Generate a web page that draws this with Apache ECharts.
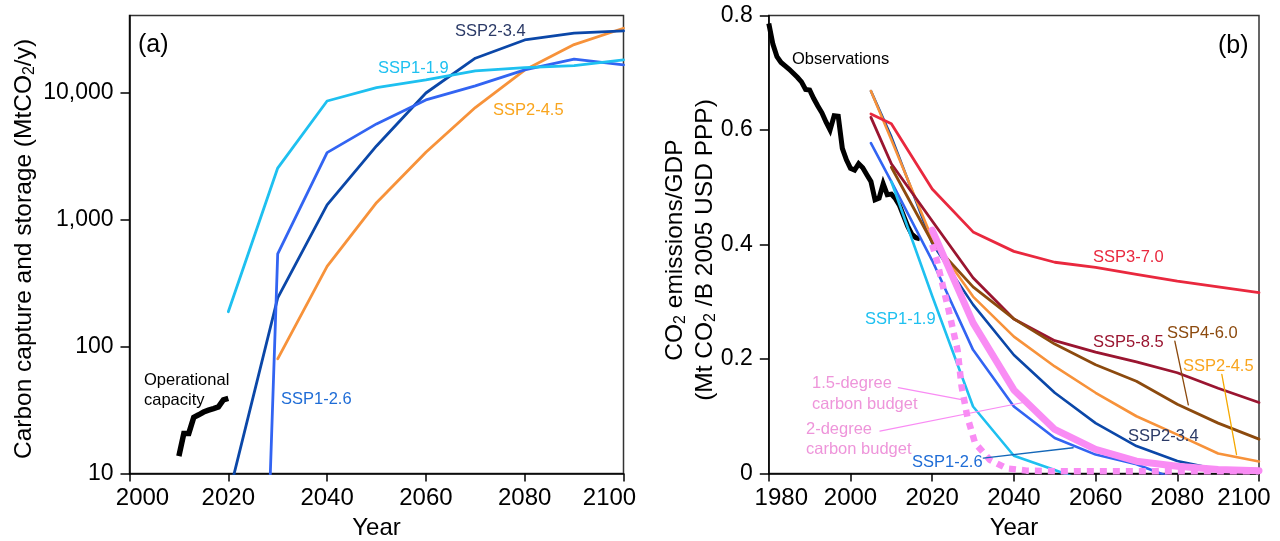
<!DOCTYPE html>
<html><head><meta charset="utf-8">
<script src="https://cdn.jsdelivr.net/npm/echarts@6/dist/echarts.min.js"></script>
<style>html,body{margin:0;padding:0;background:#fff}#c{width:1280px;height:541px}</style>
</head><body><div id="c"></div>
<script>
const FONT = '"Liberation Sans", Arial, sans-serif';

// ---------- Panel (a): carbon capture and storage (MtCO2/y), log scale ----------
const ccsTicks = [10, 100, 1000, 10000];
const opYears  = [2010, 2011, 2012, 2013, 2014, 2015, 2016, 2017, 2018, 2019, 2020];
const opValues = [13.7, 20.7, 20.7, 27.7, 29.0, 30.5, 31.6, 32.5, 33.5, 38.0, 39.0];
const a119Years  = [2020, 2030, 2040, 2050, 2060, 2070, 2080, 2090, 2100];
const a119Values = [188, 2550, 8610, 10960, 12620, 14860, 15780, 16360, 18130];
const a126Years  = [2028, 2030, 2040, 2050, 2060, 2070, 2080, 2090, 2100];
const a126Values = [2.6, 537, 3375, 5680, 8770, 11320, 15140, 18370, 16560];
const a234Years  = [2020, 2030, 2040, 2050, 2060, 2070, 2080, 2090, 2100];
const a234Values = [6.5, 242, 1306, 3810, 9950, 18710, 26060, 29440, 30700];
const a245Years  = [2030, 2040, 2050, 2060, 2070, 2080, 2090, 2100];
const a245Values = [80, 428, 1360, 3400, 7640, 15100, 23950, 32200];

// ---------- Panel (b): CO2 emissions / GDP ----------
const obsYears  = [1980,1981,1982,1983,1984,1985,1986,1987,1988,1989,1990,1991,1992,1993,1994,1995,1996,1997,1998,1999,2000,2001,2002,2003,2004,2005,2006,2007,2008,2009,2010,2011,2012,2013,2014,2015,2016,2017];
const obsValues = [0.786,0.750,0.728,0.718,0.712,0.706,0.699,0.692,0.684,0.671,0.670,0.655,0.642,0.630,0.614,0.600,0.625,0.624,0.568,0.548,0.533,0.530,0.541,0.534,0.522,0.510,0.478,0.481,0.506,0.487,0.488,0.480,0.468,0.450,0.432,0.418,0.412,0.410];
const scenYears = [2005, 2010, 2020, 2030, 2040, 2050, 2060, 2070, 2080, 2090, 2100];
const b370Values = [0.628, 0.611, 0.497, 0.422, 0.388, 0.369, 0.360, 0.348, 0.336, 0.326, 0.316];
const b585Values = [0.622, 0.541, 0.441, 0.342, 0.270, 0.232, 0.212, 0.195, 0.176, 0.149, 0.124];
const b460Years  = [2010, 2020, 2030, 2040, 2050, 2060, 2070, 2080, 2090, 2100];
const b460Values = [0.535, 0.404, 0.326, 0.270, 0.226, 0.190, 0.161, 0.121, 0.088, 0.060];
const b245Values = [0.668, 0.583, 0.410, 0.309, 0.239, 0.187, 0.141, 0.100, 0.068, 0.035, 0.021];
const b234Values = [0.668, 0.588, 0.402, 0.295, 0.207, 0.141, 0.088, 0.048, 0.022, 0.007, 0.003];
const b126Years  = [2005, 2010, 2020, 2030, 2040, 2050, 2060, 2070, 2080];
const b126Values = [0.577, 0.510, 0.372, 0.216, 0.117, 0.062, 0.033, 0.016, -0.011];
const b119Years  = [2010, 2020, 2030, 2040, 2050, 2060];
const b119Values = [0.510, 0.310, 0.117, 0.031, 0.006, -0.020];
const deg2Years  = [2020, 2030, 2040, 2050, 2060, 2070, 2080, 2090, 2100];
const deg2Values = [0.425, 0.263, 0.146, 0.077, 0.042, 0.0215, 0.0128, 0.007, 0.005];
const deg15Years  = [2020, 2021, 2024, 2026.2, 2027.2, 2028.6, 2030.5, 2034.1, 2038.2, 2043.1, 2050, 2100];
const deg15Values = [0.400, 0.376, 0.286, 0.216, 0.152, 0.099, 0.053, 0.024, 0.009, 0.005, 0.004, 0.004];
// label leader lines (from label to curve), in data units
const lead15  = {years: [2011.7, 2027.2], values: [0.150, 0.129]};
const lead2   = {years: [2007.2, 2042.3], values: [0.074, 0.124]};
const lead126 = {years: [2032.5, 2054.5], values: [0.027, 0.045]};
const lead460 = {years: [2079.4, 2082.7], values: [0.231, 0.120]};
const lead245 = {years: [2090.9, 2094.5], values: [0.173, 0.033]};

const pairs = (xs, ys) => xs.map((x, i) => [x, ys[i]]);

function line(name, xi, xs, ys, color, width, extra) {
  return Object.assign({
    name, type: 'line', xAxisIndex: xi, yAxisIndex: xi,
    data: pairs(xs, ys), showSymbol: false, symbol: 'none', silent: true,
    clip: true, animation: false,
    lineStyle: {color, width, cap: 'round', join: 'round'}
  }, extra || {});
}

const C = {
  cyan: '#1EC0F0', blue: '#3264F2', navy: '#0B47A8', orange: '#F7923A',
  red: '#E9283E', dred: '#9A1530', brown: '#8C4A0E', pink: '#F98CF4',
  labOrange: '#F9A51E', labNavy: '#2B3A67', labBlue: '#1E6CD6', labPink: '#EE95DA'
};

function axisX(gi, min, max, pad) {
  return {
    gridIndex: gi, type: 'value', min, max, interval: 20,
    axisLine: {show: true, onZero: false, lineStyle: {color: '#000', width: 1.5}},
    axisTick: {show: true, length: 8, lineStyle: {color: '#000', width: 1.5}},
    splitLine: {show: false},
    axisLabel: {
      fontSize: 24, color: '#000', fontFamily: FONT, margin: 13,
      formatter: v => v === min ? '{l|' + v + '}' : (v === max ? '{r|' + v + '}' : String(v)),
      rich: {
        l: {fontSize: 24, color: '#000', fontFamily: FONT, padding: [0, 0, 0, pad[0]]},
        r: {fontSize: 24, color: '#000', fontFamily: FONT, padding: [0, pad[1], 0, 0]}
      }
    },
    name: 'Year', nameLocation: 'middle', nameGap: 43,
    nameTextStyle: {fontSize: 24, color: '#000', fontFamily: FONT}
  };
}

function txt(text, x, y, color, size, align) {
  return {
    type: 'text', x, y, silent: true, z: 50,
    style: {text, fill: color, font: (size || 16.5) + 'px ' + FONT,
      align: align || 'left', verticalAlign: 'middle',
      textAlign: align || 'left', textVerticalAlign: 'middle'}
  };
}
function vtxt(rt, x, y, size) {
  return {
    type: 'text', x, y, rotation: Math.PI / 2, silent: true, z: 50,
    style: {
      text: rt, fill: '#000', font: size + 'px ' + FONT,
      align: 'center', verticalAlign: 'middle', textAlign: 'center', textVerticalAlign: 'middle',
      rich: {
        a: {fontSize: size, fontFamily: FONT, fill: '#000', color: '#000', lineHeight: 30},
        s: {fontSize: 16, fontFamily: FONT, fill: '#000', color: '#000', padding: [11, 0, 0, 0], lineHeight: 30}
      }
    }
  };
}

const option = {
  animation: false,
  backgroundColor: '#fff',
  grid: [
    {left: 129.5, right: 656.5, top: 15.5, bottom: 67.5, show: true, borderColor: '#333', borderWidth: 1.5,
      backgroundColor: 'transparent', containLabel: false, outerBoundsMode: 'none'},
    {left: 768.8, right: 21, top: 15.5, bottom: 67.5, show: true, borderColor: '#333', borderWidth: 1.5,
      backgroundColor: 'transparent', containLabel: false, outerBoundsMode: 'none'}
  ],
  xAxis: [axisX(0, 2000, 2100, [26, 28]), axisX(1, 1980, 2100, [25, 30])],
  yAxis: [
    {gridIndex: 0, type: 'log', logBase: 10, min: 10, max: 40600,
      axisLine: {show: true, onZero: false, lineStyle: {color: '#000', width: 1.5}},
      axisTick: {show: true, length: 9, customValues: ccsTicks, lineStyle: {color: '#000', width: 1.5}},
      splitLine: {show: false}, minorTick: {show: false},
      axisLabel: {fontSize: 23, color: '#000', fontFamily: FONT, margin: 16, customValues: ccsTicks,
        formatter: v => Math.round(v).toLocaleString('en-US')}},
    {gridIndex: 1, type: 'value', min: 0, max: 0.8, interval: 0.2,
      axisLine: {show: true, onZero: false, lineStyle: {color: '#000', width: 1.5}},
      axisTick: {show: true, length: 9, lineStyle: {color: '#000', width: 1.5}},
      splitLine: {show: false},
      axisLabel: {fontSize: 23, color: '#000', fontFamily: FONT, margin: 16,
        formatter: v => (Math.round(v * 10) / 10).toString()}}
  ],
  series: [
    // panel (a)
    line('Operational capacity', 0, opYears, opValues, '#000', 5.5, {lineStyle: {color: '#000', width: 5.5, cap: 'butt', join: 'miter'}}),
    line('SSP2-4.5 a', 0, a245Years, a245Values, C.orange, 2.8),
    line('SSP2-3.4 a', 0, a234Years, a234Values, C.navy, 2.8),
    line('SSP1-2.6 a', 0, a126Years, a126Values, C.blue, 2.8),
    line('SSP1-1.9 a', 0, a119Years, a119Values, C.cyan, 2.8),
    // panel (b)
    line('Observations', 1, obsYears, obsValues, '#000', 5, {lineStyle: {color: '#000', width: 5, cap: 'butt', join: 'miter'}}),
    line('SSP2-3.4 b', 1, scenYears, b234Values, C.navy, 2.6),
    line('SSP2-4.5 b', 1, scenYears, b245Values, C.orange, 2.6),
    line('SSP3-7.0 b', 1, scenYears, b370Values, C.red, 2.8),
    line('SSP5-8.5 b', 1, scenYears, b585Values, C.dred, 2.8),
    line('SSP4-6.0 b', 1, b460Years, b460Values, C.brown, 2.8),
    line('SSP1-2.6 b', 1, b126Years, b126Values, C.blue, 2.6),
    line('SSP1-1.9 b', 1, b119Years, b119Values, C.cyan, 2.6),
    line('2-degree', 1, deg2Years, deg2Values, C.pink, 7),
    line('1.5-degree', 1, deg15Years, deg15Values, C.pink, 6.5, {lineStyle: {color: C.pink, width: 6.5, type: [7, 6], cap: 'butt'}}),
    line('lead15', 1, lead15.years, lead15.values, C.pink, 1.2),
    line('lead2', 1, lead2.years, lead2.values, C.pink, 1.2),
    line('lead126', 1, lead126.years, lead126.values, '#1467B8', 1.3),
    line('lead460', 1, lead460.years, lead460.values, C.brown, 1.3),
    line('lead245', 1, lead245.years, lead245.values, '#F5A800', 1.3)
  ],
  graphic: [
    vtxt('{a|Carbon capture and storage (MtCO}{s|2}{a|/y)}', 24, 249, 24.5),
    vtxt('{a|CO}{s|2}{a| emissions/GDP}', 675, 250, 24.5),
    vtxt('{a|(Mt CO}{s|2}{a| /B 2005 USD PPP)}', 705, 250, 24.5),
    txt('(a)', 138, 45, '#000', 25),
    txt('SSP2-3.4', 455, 31, C.labNavy),
    txt('SSP1-1.9', 378, 68, C.cyan),
    txt('SSP2-4.5', 493, 110, C.labOrange),
    txt('SSP1-2.6', 281, 399, C.labBlue),
    txt('Operational', 144, 380, '#000'),
    txt('capacity', 144, 400, '#000'),
    txt('(b)', 1218, 46, '#000', 25),
    txt('Observations', 792, 59, '#000'),
    txt('SSP3-7.0', 1093, 257, C.red),
    txt('SSP5-8.5', 1093, 342, C.dred),
    txt('SSP4-6.0', 1167, 333, C.brown),
    txt('SSP2-4.5', 1183, 366, C.labOrange),
    txt('SSP2-3.4', 1128, 436, C.labNavy),
    txt('SSP1-2.6', 912, 462, C.labBlue),
    txt('SSP1-1.9', 865, 319, C.cyan),
    txt('1.5-degree', 812, 383, C.labPink),
    txt('carbon budget', 812, 404, C.labPink),
    txt('2-degree', 806, 429, C.labPink),
    txt('carbon budget', 806, 449, C.labPink)
  ]
};

const chart = echarts.init(document.getElementById('c'), null, {renderer: 'canvas'});
chart.setOption(option);
</script>
</body></html>
